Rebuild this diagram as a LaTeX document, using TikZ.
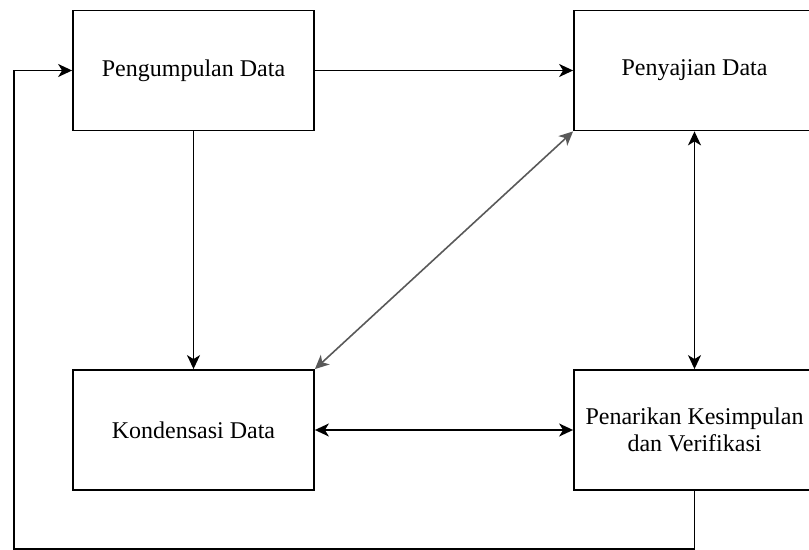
\documentclass[tikz,border=0pt]{standalone}
\usepackage{fontspec}
\setmainfont{Liberation Serif}
\usetikzlibrary{arrows.meta}

\begin{document}
\begin{tikzpicture}[x=0.5pt, y=-0.5pt,
    box/.style={draw, line width=0.9pt, minimum width=120.5pt, minimum height=60pt, align=center, font=\fontsize{12}{13.5}\selectfont},
    arr/.style={line width=0.8pt, -{Stealth[length=7pt, width=6.5pt, inset=2pt]}},
    darr/.style={line width=0.8pt, {Stealth[length=7pt, width=6.5pt, inset=2pt]}-{Stealth[length=7pt, width=6.5pt, inset=2pt]}}]
    \useasboundingbox (0,0) rectangle (809,550);

    % Nodes
    \node[box](P1) at (193.5, 70.5) {Pengumpulan Data};
    \node[box](P2) at (694.5, 70.5) {Penyajian Data};
    \node[box](P3) at (193.5, 430) {Kondensasi Data};
    \node[box](P4) at (694.5, 430) {Penarikan Kesimpulan\\dan Verifikasi};

    % Corners of the loop back
    \coordinate(C1) at (694.5, 549);
    \coordinate(C2) at (14, 549);

    % Arrows
    \draw[arr] (P1) -- (P2);
    \draw[arr] (P1) -- (P3);
    \draw[darr] (P3) -- (P4);
    \draw[darr] (P2) -- (P4);
    \draw[darr, draw=black!65] (P3.north east) -- (P2.south west);
    \draw[arr] (P4.south) -- (C1) -- (C2) |- (P1.west);
  \end{tikzpicture}
\end{document}
